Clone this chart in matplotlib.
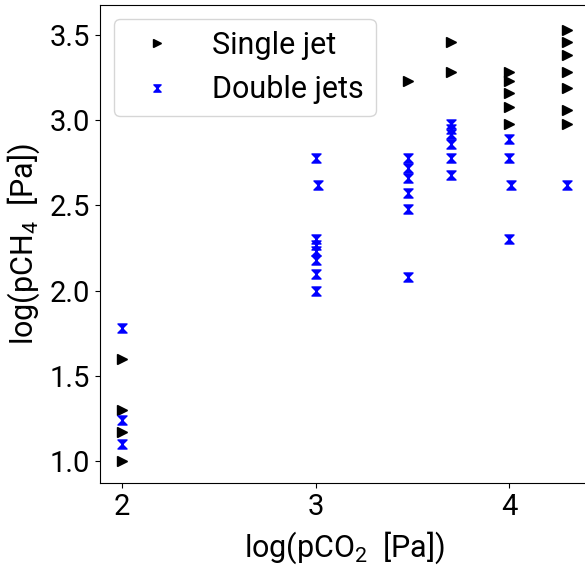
import numpy as np
import matplotlib
matplotlib.use("Agg")
import matplotlib.pyplot as plt
from matplotlib.path import Path

plt.rcParams['font.family'] = ['Roboto', 'DejaVu Sans']
plt.rcParams['mathtext.fontset'] = 'custom'
plt.rcParams['mathtext.rm'] = 'Roboto'
plt.rcParams['mathtext.default'] = 'regular'

# log10 of pCO2 / pCH4 [Pa]
single_x = [2, 2, 2, 2,
            3.477,
            3.699, 3.699,
            4, 4, 4, 4, 4,
            4.301, 4.301, 4.301, 4.301, 4.301, 4.301, 4.301]
single_y = [1.60, 1.30, 1.17, 1.00,
            3.23,
            3.46, 3.28,
            3.28, 3.23, 3.16, 3.08, 2.98,
            3.53, 3.46, 3.38, 3.28, 3.19, 3.06, 2.98]

double_x = [2, 2, 2,
            3, 3.01, 3, 3, 3, 3, 3, 3,
            3.477, 3.477, 3.477, 3.477, 3.477, 3.477,
            3.699, 3.699, 3.699, 3.699, 3.699, 3.699,
            4, 4, 4.01, 4,
            4.301]
double_y = [1.78, 1.24, 1.10,
            2.78, 2.62, 2.30, 2.27, 2.23, 2.18, 2.10, 2.00,
            2.78, 2.72, 2.66, 2.57, 2.48, 2.08,
            2.98, 2.95, 2.92, 2.86, 2.78, 2.68,
            2.89, 2.78, 2.62, 2.30,
            2.62]

# hourglass marker
hourglass = Path([(-1, 1), (1, 1), (-1, -1), (1, -1), (-1, 1)],
                 [Path.MOVETO, Path.LINETO, Path.LINETO, Path.LINETO, Path.CLOSEPOLY])

fig = plt.figure(figsize=(5.85, 5.66), dpi=100)
ax = fig.add_axes([100/585, 83/566, 490/585, 478/566])

ax.plot(single_x, single_y, linestyle='none', marker='>', color='black',
        markersize=7.5, label='Single jet')
ax.plot(double_x, double_y, linestyle='none', marker=hourglass, color='blue',
        markersize=6.5, label='Double jets')

ax.set_xlim(1.886, 4.418)
ax.set_ylim(0.871, 3.676)
ax.set_xticks([2, 3, 4])
ax.set_yticks([1.0, 1.5, 2.0, 2.5, 3.0, 3.5])
ax.tick_params(labelsize=21)
ax.set_xlabel('log(pCO$_2$  [Pa])', fontsize=22, labelpad=6)
ax.set_ylabel('log(pCH$_4$  [Pa])', fontsize=22, labelpad=6)

ax.legend(loc='upper left', fontsize=22, markerscale=0.8, handletextpad=0.8,
          borderaxespad=0.45)

plt.savefig('out.png', dpi=100)
